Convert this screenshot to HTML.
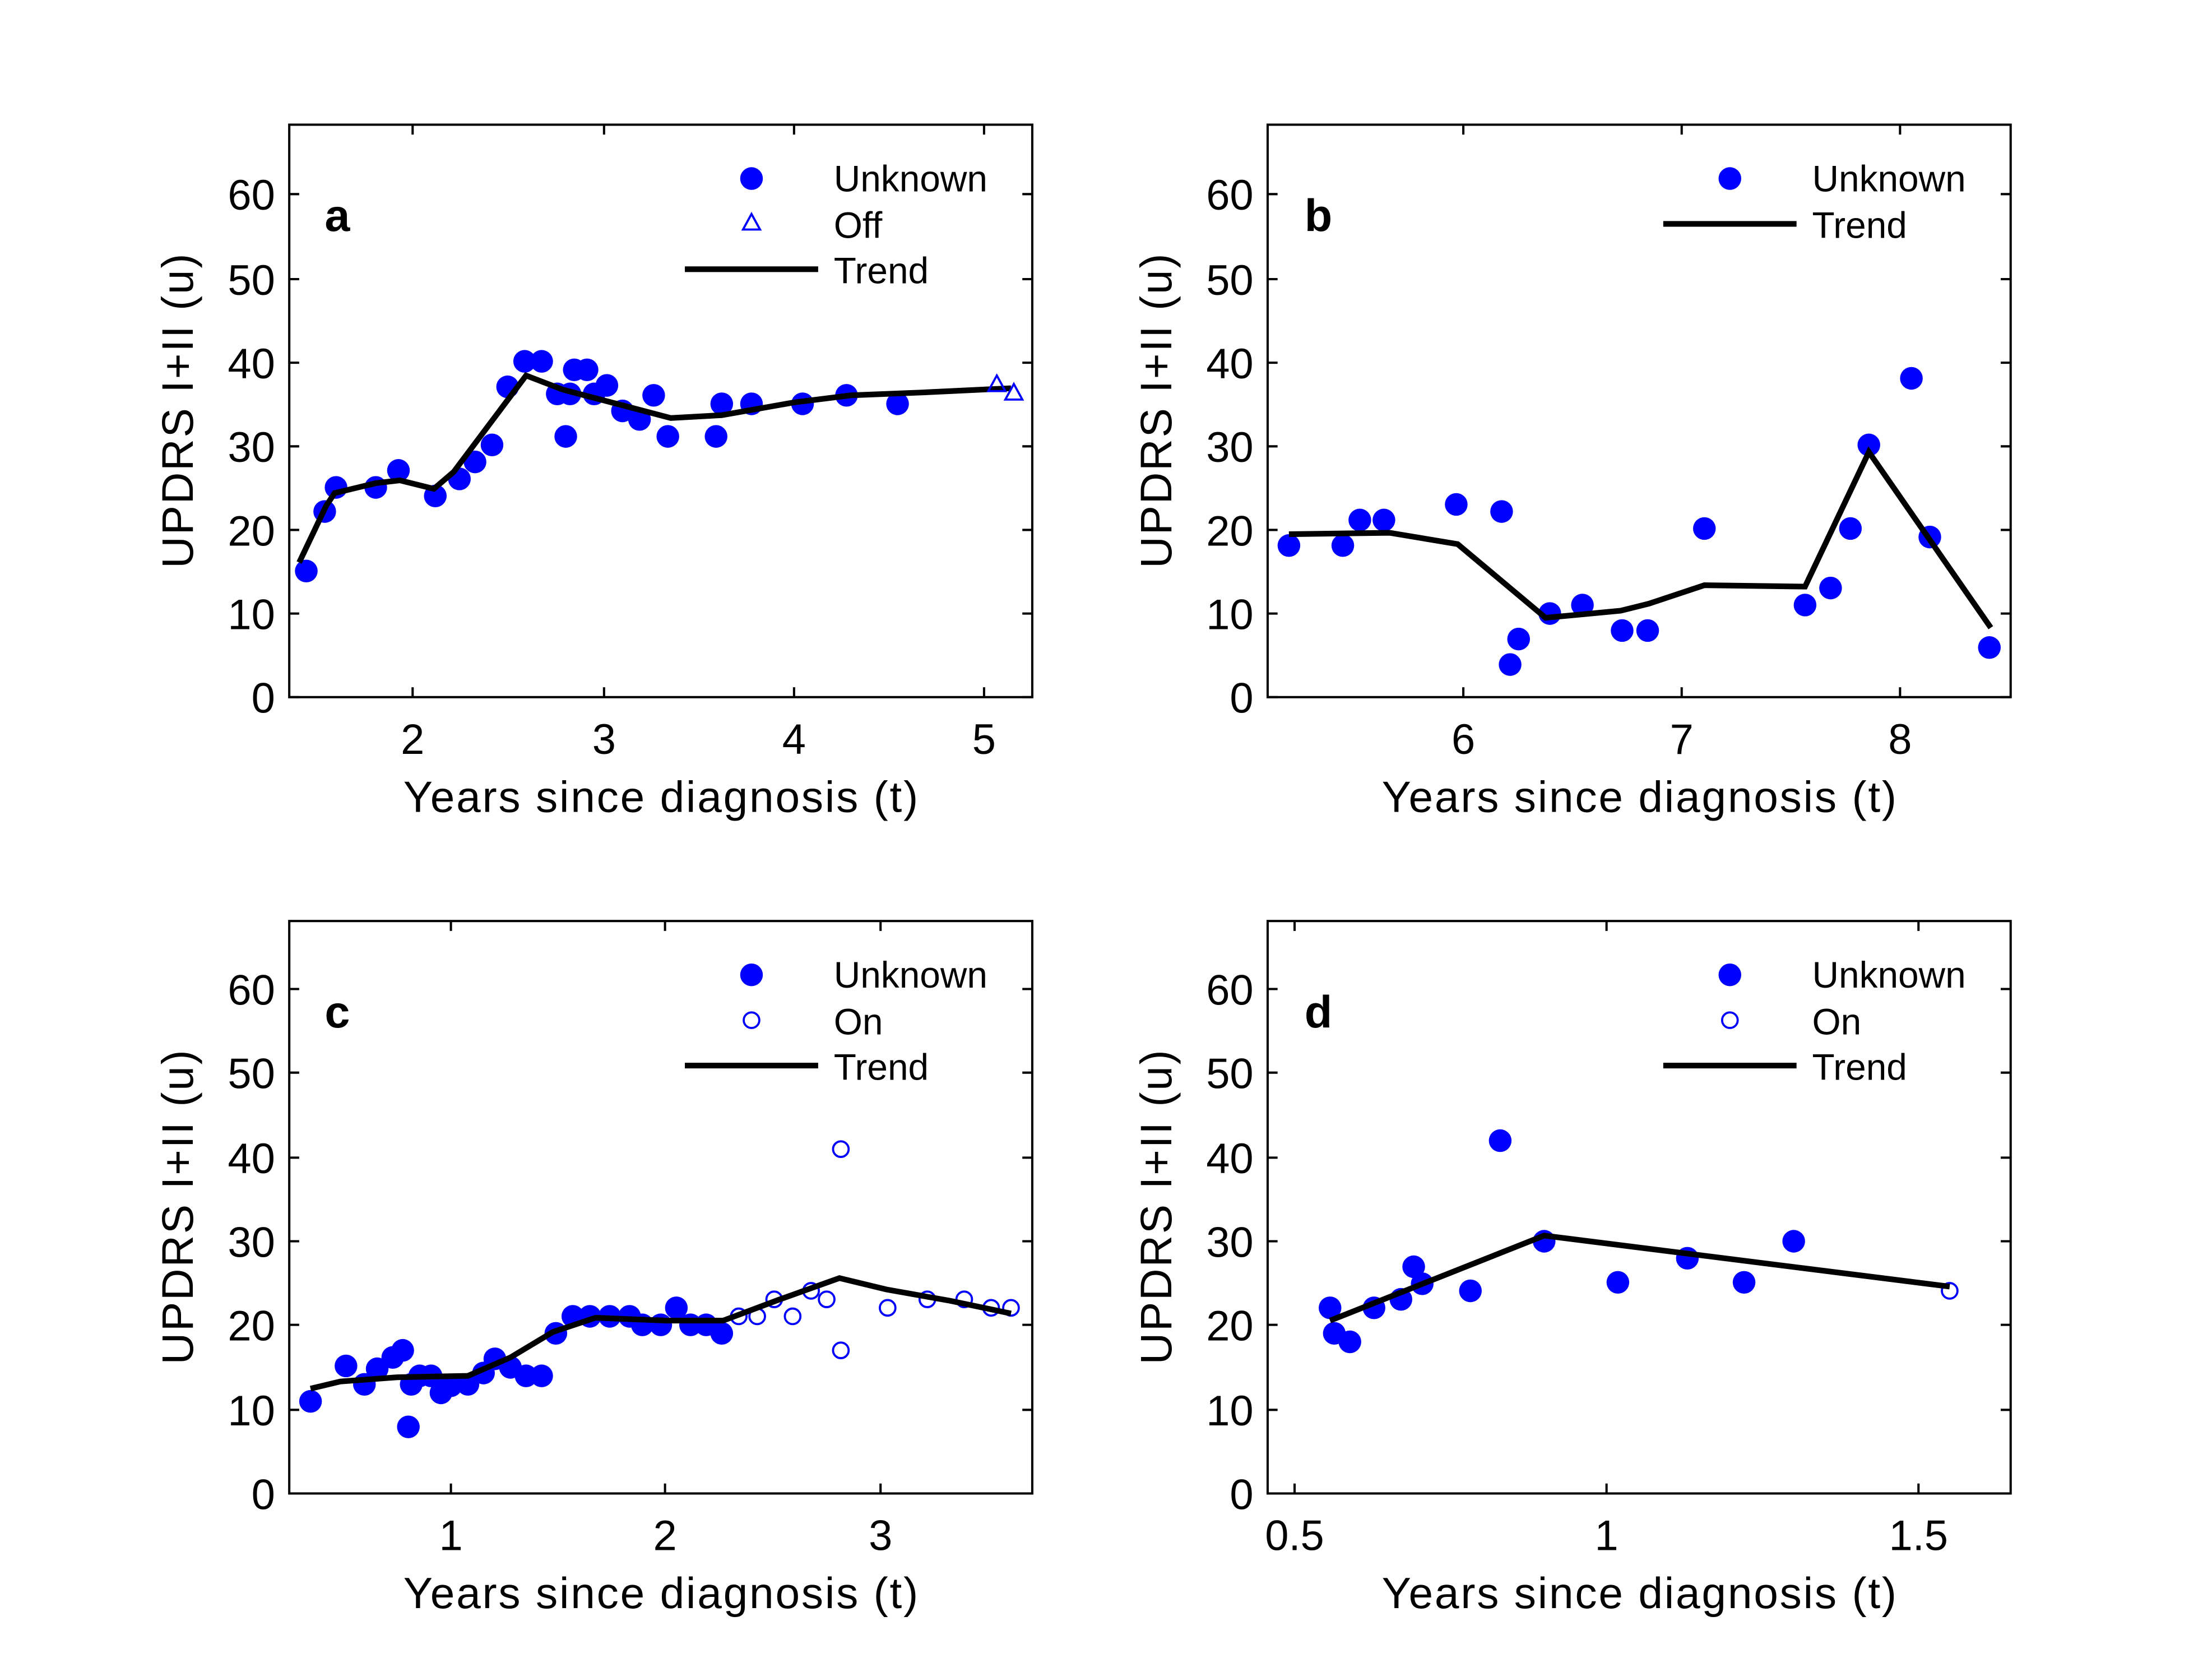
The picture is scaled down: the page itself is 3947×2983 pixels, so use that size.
<!DOCTYPE html>
<html><head><meta charset="utf-8"><style>
html,body{margin:0;padding:0;background:#fff}
svg{display:block}
text{font-family:"Liberation Sans",Arial,sans-serif;fill:#000}
.t{font-size:30px}
.xl{font-size:31px}
.lg{font-size:26px}
.pl{font-size:32px;font-weight:bold}
.ax{fill:none;stroke:#000;stroke-width:1.6}
.tr{fill:none;stroke:#000;stroke-width:4;stroke-linejoin:miter}
.f{fill:#0000ff}
.o{fill:none;stroke:#0000ff;stroke-width:1.5}
</style></head><body>
<svg width="3947" height="2983" viewBox="0 0 1560 1180" preserveAspectRatio="none" xmlns="http://www.w3.org/2000/svg">
<rect width="1560" height="1180" fill="#fff"/>

<!-- ===== Panel a ===== -->
<g>
<rect class="ax" x="204" y="88" width="524" height="404"/>
<path class="ax" d="M204 492h7M204 433h7M204 374h7M204 315h7M204 256h7M204 197h7M204 137h7
M728 492h-7M728 433h-7M728 374h-7M728 315h-7M728 256h-7M728 197h-7M728 137h-7
M291 492v-7M426 492v-7M560 492v-7M694 492v-7M291 88v7M426 88v7M560 88v7M694 88v7"/>
<g class="t" text-anchor="end">
<text x="194" y="503">0</text><text x="194" y="444">10</text><text x="194" y="385">20</text><text x="194" y="326">30</text><text x="194" y="267">40</text><text x="194" y="208">50</text><text x="194" y="148">60</text></g>
<g class="t" text-anchor="middle">
<text x="291" y="532">2</text><text x="426" y="532">3</text><text x="560" y="532">4</text><text x="694" y="532">5</text></g>
<text class="xl" x="466" y="573" text-anchor="middle" textLength="363">Years since diagnosis (t)</text>
<text class="xl" transform="translate(136,290) rotate(-90)" text-anchor="middle" textLength="222">UPDRS I+II (u)</text>
<text class="pl" x="229" y="163">a</text>
<g class="f">
<circle cx="216" cy="403" r="8"/><circle cx="229" cy="361" r="8"/><circle cx="237" cy="344" r="8"/><circle cx="265" cy="344" r="8"/><circle cx="281" cy="332" r="8"/><circle cx="307" cy="350" r="8"/><circle cx="324" cy="338" r="8"/><circle cx="335" cy="326" r="8"/><circle cx="347" cy="314" r="8"/><circle cx="358" cy="273" r="8"/><circle cx="370" cy="255" r="8"/><circle cx="382" cy="255" r="8"/><circle cx="393" cy="278" r="8"/><circle cx="399" cy="308" r="8"/><circle cx="402" cy="278" r="8"/><circle cx="405" cy="261" r="8"/><circle cx="414" cy="261" r="8"/><circle cx="419" cy="278" r="8"/><circle cx="428" cy="272" r="8"/><circle cx="439" cy="290" r="8"/><circle cx="451" cy="296" r="8"/><circle cx="461" cy="279" r="8"/><circle cx="471" cy="308" r="8"/><circle cx="505" cy="308" r="8"/><circle cx="509" cy="285" r="8"/><circle cx="530" cy="285" r="8"/><circle cx="566" cy="285" r="8"/><circle cx="597" cy="279" r="8"/><circle cx="633" cy="285" r="8"/>
<circle cx="530" cy="126" r="8"/></g>
<polyline class="tr" points="211,397 230,357 236,348 265,341 282,339 306,345 320,333 371,265 397,275 473,295 509,293 560,284 600,279 650,277 713,274"/>
<g class="o"><path d="M703 265l6 11h-12z"/><path d="M715 271l6 11h-12z"/><path d="M530 151l6 11h-12z"/></g>
<line x1="483" y1="190" x2="577" y2="190" stroke="#000" stroke-width="4"/>
<g class="lg"><text x="588" y="135">Unknown</text><text x="588" y="168">Off</text><text x="588" y="200">Trend</text></g>
</g>

<!-- ===== Panel b ===== -->
<g>
<rect class="ax" x="894" y="88" width="524" height="404"/>
<path class="ax" d="M894 492h7M894 433h7M894 374h7M894 315h7M894 256h7M894 197h7M894 137h7
M1418 492h-7M1418 433h-7M1418 374h-7M1418 315h-7M1418 256h-7M1418 197h-7M1418 137h-7
M1032 492v-7M1186 492v-7M1340 492v-7M1032 88v7M1186 88v7M1340 88v7"/>
<g class="t" text-anchor="end">
<text x="884" y="503">0</text><text x="884" y="444">10</text><text x="884" y="385">20</text><text x="884" y="326">30</text><text x="884" y="267">40</text><text x="884" y="208">50</text><text x="884" y="148">60</text></g>
<g class="t" text-anchor="middle">
<text x="1032" y="532">6</text><text x="1186" y="532">7</text><text x="1340" y="532">8</text></g>
<text class="xl" x="1156" y="573" text-anchor="middle" textLength="363">Years since diagnosis (t)</text>
<text class="xl" transform="translate(826,290) rotate(-90)" text-anchor="middle" textLength="222">UPDRS I+II (u)</text>
<text class="pl" x="920" y="163">b</text>
<g class="f">
<circle cx="909" cy="385" r="8"/><circle cx="947" cy="385" r="8"/><circle cx="959" cy="367" r="8"/><circle cx="976" cy="367" r="8"/><circle cx="1027" cy="356" r="8"/><circle cx="1059" cy="361" r="8"/><circle cx="1065" cy="469" r="8"/><circle cx="1071" cy="451" r="8"/><circle cx="1093" cy="433" r="8"/><circle cx="1116" cy="427" r="8"/><circle cx="1144" cy="445" r="8"/><circle cx="1162" cy="445" r="8"/><circle cx="1202" cy="373" r="8"/><circle cx="1273" cy="427" r="8"/><circle cx="1291" cy="415" r="8"/><circle cx="1305" cy="373" r="8"/><circle cx="1318" cy="314" r="8"/><circle cx="1348" cy="267" r="8"/><circle cx="1361" cy="379" r="8"/><circle cx="1403" cy="457" r="8"/>
<circle cx="1220" cy="126" r="8"/></g>
<polyline class="tr" points="909,377 980,376 1028,384 1090,436 1143,431 1163,426 1202,413 1273,414 1318,319 1404,443"/>
<line x1="1173" y1="158" x2="1267" y2="158" stroke="#000" stroke-width="4"/>
<g class="lg"><text x="1278" y="135">Unknown</text><text x="1278" y="168">Trend</text></g>
</g>

<!-- ===== Panel c ===== -->
<g>
<rect class="ax" x="204" y="650" width="524" height="404"/>
<path class="ax" d="M204 1054h7M204 995h7M204 935h7M204 876h7M204 817h7M204 757h7M204 698h7
M728 1054h-7M728 995h-7M728 935h-7M728 876h-7M728 817h-7M728 757h-7M728 698h-7
M318 1054v-7M469 1054v-7M621 1054v-7M318 650v7M469 650v7M621 650v7"/>
<g class="t" text-anchor="end">
<text x="194" y="1065">0</text><text x="194" y="1006">10</text><text x="194" y="946">20</text><text x="194" y="887">30</text><text x="194" y="828">40</text><text x="194" y="768">50</text><text x="194" y="709">60</text></g>
<g class="t" text-anchor="middle">
<text x="318" y="1094">1</text><text x="469" y="1094">2</text><text x="621" y="1094">3</text></g>
<text class="xl" x="466" y="1135" text-anchor="middle" textLength="363">Years since diagnosis (t)</text>
<text class="xl" transform="translate(136,852) rotate(-90)" text-anchor="middle" textLength="222">UPDRS I+II (u)</text>
<text class="pl" x="229" y="725">c</text>
<g class="f">
<circle cx="219" cy="989" r="8"/><circle cx="244" cy="964" r="8"/><circle cx="257" cy="977" r="8"/><circle cx="266" cy="966" r="8"/><circle cx="277" cy="958" r="8"/><circle cx="284" cy="953" r="8"/><circle cx="290" cy="977" r="8"/><circle cx="288" cy="1007" r="8"/><circle cx="296" cy="971" r="8"/><circle cx="304" cy="971" r="8"/><circle cx="311" cy="983" r="8"/><circle cx="318" cy="978" r="8"/><circle cx="330" cy="977" r="8"/><circle cx="341" cy="969" r="8"/><circle cx="349" cy="959" r="8"/><circle cx="360" cy="965" r="8"/><circle cx="371" cy="971" r="8"/><circle cx="382" cy="971" r="8"/><circle cx="392" cy="941" r="8"/><circle cx="404" cy="929" r="8"/><circle cx="416" cy="929" r="8"/><circle cx="430" cy="929" r="8"/><circle cx="444" cy="929" r="8"/><circle cx="453" cy="935" r="8"/><circle cx="466" cy="935" r="8"/><circle cx="477" cy="923" r="8"/><circle cx="487" cy="935" r="8"/><circle cx="498" cy="935" r="8"/><circle cx="509" cy="941" r="8"/>
<circle cx="530" cy="688" r="8"/></g>
<g class="o">
<circle cx="521" cy="929" r="5.5"/><circle cx="534" cy="929" r="5.5"/><circle cx="546" cy="917" r="5.5"/><circle cx="559" cy="929" r="5.5"/><circle cx="572" cy="911" r="5.5"/><circle cx="583" cy="917" r="5.5"/><circle cx="593" cy="811" r="5.5"/><circle cx="593" cy="953" r="5.5"/><circle cx="626" cy="923" r="5.5"/><circle cx="654" cy="917" r="5.5"/><circle cx="680" cy="917" r="5.5"/><circle cx="699" cy="923" r="5.5"/><circle cx="713" cy="923" r="5.5"/>
<circle cx="530" cy="720" r="5.5"/></g>
<polyline class="tr" points="219,980 240,975 280,972 330,971 360,958 390,940 420,930 470,932 510,932 550,917 592,902 625,910 670,918 713,927"/>
<line x1="483" y1="752" x2="577" y2="752" stroke="#000" stroke-width="4"/>
<g class="lg"><text x="588" y="697">Unknown</text><text x="588" y="730">On</text><text x="588" y="762">Trend</text></g>
</g>

<!-- ===== Panel d ===== -->
<g>
<rect class="ax" x="894" y="650" width="524" height="404"/>
<path class="ax" d="M894 1054h7M894 995h7M894 935h7M894 876h7M894 817h7M894 757h7M894 698h7
M1418 1054h-7M1418 995h-7M1418 935h-7M1418 876h-7M1418 817h-7M1418 757h-7M1418 698h-7
M913 1054v-7M1133 1054v-7M1353 1054v-7M913 650v7M1133 650v7M1353 650v7"/>
<g class="t" text-anchor="end">
<text x="884" y="1065">0</text><text x="884" y="1006">10</text><text x="884" y="946">20</text><text x="884" y="887">30</text><text x="884" y="828">40</text><text x="884" y="768">50</text><text x="884" y="709">60</text></g>
<g class="t" text-anchor="middle">
<text x="913" y="1094">0.5</text><text x="1133" y="1094">1</text><text x="1353" y="1094">1.5</text></g>
<text class="xl" x="1156" y="1135" text-anchor="middle" textLength="363">Years since diagnosis (t)</text>
<text class="xl" transform="translate(826,852) rotate(-90)" text-anchor="middle" textLength="222">UPDRS I+II (u)</text>
<text class="pl" x="920" y="725">d</text>
<g class="f">
<circle cx="938" cy="923" r="8"/><circle cx="941" cy="941" r="8"/><circle cx="952" cy="947" r="8"/><circle cx="969" cy="923" r="8"/><circle cx="988" cy="917" r="8"/><circle cx="997" cy="894" r="8"/><circle cx="1003" cy="906" r="8"/><circle cx="1037" cy="911" r="8"/><circle cx="1058" cy="805" r="8"/><circle cx="1089" cy="876" r="8"/><circle cx="1141" cy="905" r="8"/><circle cx="1190" cy="888" r="8"/><circle cx="1230" cy="905" r="8"/><circle cx="1265" cy="876" r="8"/>
<circle cx="1220" cy="688" r="8"/></g>
<g class="o"><circle cx="1375" cy="911" r="5.5"/><circle cx="1220" cy="720" r="5.5"/></g>
<polyline class="tr" points="938,932 1089,872 1375,908"/>
<line x1="1173" y1="752" x2="1267" y2="752" stroke="#000" stroke-width="4"/>
<g class="lg"><text x="1278" y="697">Unknown</text><text x="1278" y="730">On</text><text x="1278" y="762">Trend</text></g>
</g>
</svg>
</body></html>
